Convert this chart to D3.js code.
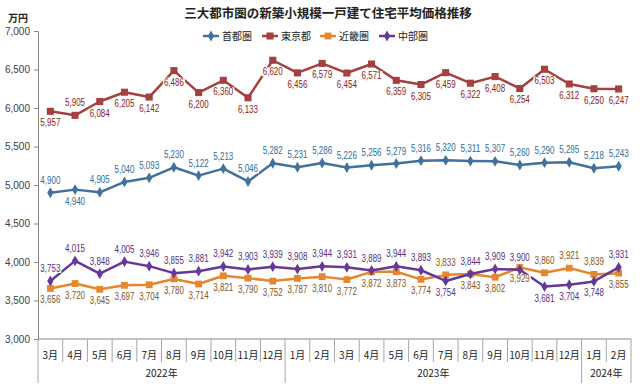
<!DOCTYPE html>
<html><head><meta charset="utf-8">
<script src="https://cdn.jsdelivr.net/npm/d3@7/dist/d3.min.js"></script>
<style>body{margin:0;background:#fff}svg{display:block}</style>
</head><body><svg id="c" width="640" height="384"></svg>
<script>
const months = ["3月","4月","5月","6月","7月","8月","9月","10月","11月","12月","1月","2月","3月","4月","5月","6月","7月","8月","9月","10月","11月","12月","1月","2月"];
const years = [["2022年",10],["2023年",12],["2024年",2]];
const yTicks = [3000,3500,4000,4500,5000,5500,6000,6500,7000];
const seriesNames = ["首都圏","東京都","近畿圏","中部圏"];
const shuto = [4900,4940,4905,5040,5093,5230,5122,5213,5046,5282,5231,5286,5226,5256,5279,5316,5320,5311,5307,5260,5290,5295,5218,5243];
const tokyo = [5957,5905,6084,6205,6142,6486,6200,6360,6133,6620,6456,6579,6454,6571,6359,6305,6459,6322,6408,6254,6503,6312,6250,6247];
const kinki = [3656,3720,3645,3697,3704,3780,3714,3821,3790,3752,3787,3810,3772,3872,3873,3774,3833,3843,3802,3929,3860,3921,3839,3855];
const chubu = [3753,4015,3848,4005,3946,3855,3881,3942,3903,3939,3908,3944,3931,3889,3944,3893,3754,3844,3909,3900,3681,3704,3748,3931];
// label placement: a = above, b = below
const shutoPos = "abaaaaaaaaaaaaaaaaaaaaaa";
const tokyoPos = "babbbbbbbbbbbbbbbbbbbbbb";
const kinkiPos = "bbbbbbbbbbbbbbbbabbbaaab";
const chubuPos = "aaaaaaaaaaaaaaaabaaabbba";

const styles = [
  {data:shuto,pos:shutoPos,line:"#41719C",lab:"#2E6DA4",shape:d3.symbolDiamond,size:34},
  {data:tokyo,pos:tokyoPos,line:"#A5403F",lab:"#8E2222",shape:d3.symbolSquare,size:50},
  {data:kinki,pos:kinkiPos,line:"#E6862E",lab:"#8A5421",shape:d3.symbolSquare,size:46},
  {data:chubu,pos:chubuPos,line:"#65399A",lab:"#553085",shape:d3.symbolDiamond,size:34}
];

const svg = d3.select("#c");
const L = 38, R = 631, T = 31, B = 339;
const x = d3.scaleBand().domain(d3.range(months.length)).range([L,R]);
const y = d3.scaleLinear().domain([3000,7000]).range([B,T]);
const cx = i => x(i) + x.bandwidth()/2;
const font = "'Liberation Sans', Arial, sans-serif";
const jp = "'Noto Sans CJK JP', sans-serif";

// title
svg.append("text").attr("x",328).attr("y",18).attr("text-anchor","middle")
  .attr("font-family",jp).attr("font-weight","bold").attr("font-size",12.5).attr("fill","#222")
  .text("三大都市圏の新築小規模一戸建て住宅平均価格推移");
svg.append("text").attr("x",18).attr("y",22).attr("text-anchor","middle")
  .attr("font-family",jp).attr("font-weight","bold").attr("font-size",10).attr("fill","#222").text("万円");

// y axis
const ya = svg.append("g").attr("transform",`translate(${L},0)`)
  .call(d3.axisLeft(y).tickValues(yTicks).tickFormat(d3.format(",")).tickSize(4).tickPadding(4));
ya.select(".domain").attr("stroke","#868686");
ya.selectAll(".tick line").attr("stroke","#868686");
ya.selectAll("text").attr("font-family",font).attr("font-size",10).attr("fill","#404040");

// x axis (multi-level)
const xa = svg.append("g");
xa.append("line").attr("x1",L).attr("x2",R).attr("y1",B).attr("y2",B).attr("stroke","#868686");
const yearBounds = [0];
years.forEach(([n,c]) => yearBounds.push(yearBounds[yearBounds.length-1]+c));
d3.range(months.length+1).forEach(i => {
  const xx = i < months.length ? x(i) : R;
  const isYear = yearBounds.includes(i);
  xa.append("line").attr("x1",xx).attr("x2",xx).attr("y1",B).attr("y2",isYear?383:362)
    .attr("stroke","#A6A6A6");
});
xa.selectAll(".m").data(months).join("text").attr("x",(d,i)=>cx(i)).attr("y",359)
  .attr("text-anchor","middle").attr("font-family",jp).attr("font-size",10).attr("fill","#222").text(d=>d);
years.forEach(([n,c],k) => {
  const s = yearBounds[k], e = yearBounds[k+1];
  const x0 = x(s), x1 = e < months.length ? x(e) : R;
  xa.append("text").attr("x",(x0+x1)/2).attr("y",377).attr("text-anchor","middle")
    .attr("font-family",jp).attr("font-size",10).attr("fill","#222").text(n);
});

// lines and markers
const line = d3.line().x((d,i)=>cx(i)).y(d=>y(d));
styles.forEach(s => {
  svg.append("path").datum(s.data).attr("d",line).attr("fill","none")
    .attr("stroke",s.line).attr("stroke-width",2.5).attr("stroke-linejoin","round");
  svg.append("g").selectAll("path").data(s.data).join("path")
    .attr("transform",(d,i)=>`translate(${cx(i)},${y(d)})`)
    .attr("d",d3.symbol().type(s.shape).size(s.size)).attr("fill",s.line);
});

// labels with white background (condensed to mimic narrow font)
const fmt = d3.format(",");
styles.forEach(s => {
  const g = svg.append("g");
  s.data.forEach((d,i) => {
    const above = s.pos[i] === "a";
    const ty = above ? y(d) - 9 : y(d) + 15;
    const t = g.append("text").attr("x",cx(i)).attr("y",ty).attr("text-anchor","middle")
      .attr("font-family",font).attr("font-size",10).attr("fill",s.lab)
      .attr("textLength",20).attr("lengthAdjust","spacingAndGlyphs").text(fmt(d));
    const bb = t.node().getBBox();
    g.insert("rect","text").attr("x",cx(i)-11).attr("y",bb.y+1).attr("width",22).attr("height",bb.height-2)
      .attr("fill","#fff");
  });
});

// legend
const lg = svg.append("g");
const lx = [203,262,320,379];
styles.forEach((s,k) => {
  const gx = lx[k];
  lg.append("line").attr("x1",gx).attr("x2",gx+16).attr("y1",36).attr("y2",36)
    .attr("stroke",s.line).attr("stroke-width",2.5);
  lg.append("path").attr("transform",`translate(${gx+8},36)`)
    .attr("d",d3.symbol().type(s.shape).size(s.size)).attr("fill",s.line);
  lg.append("text").attr("x",gx+19).attr("y",40).attr("font-family",jp).attr("font-size",10)
    .attr("fill","#222").text(seriesNames[k]);
});
</script></body></html>
